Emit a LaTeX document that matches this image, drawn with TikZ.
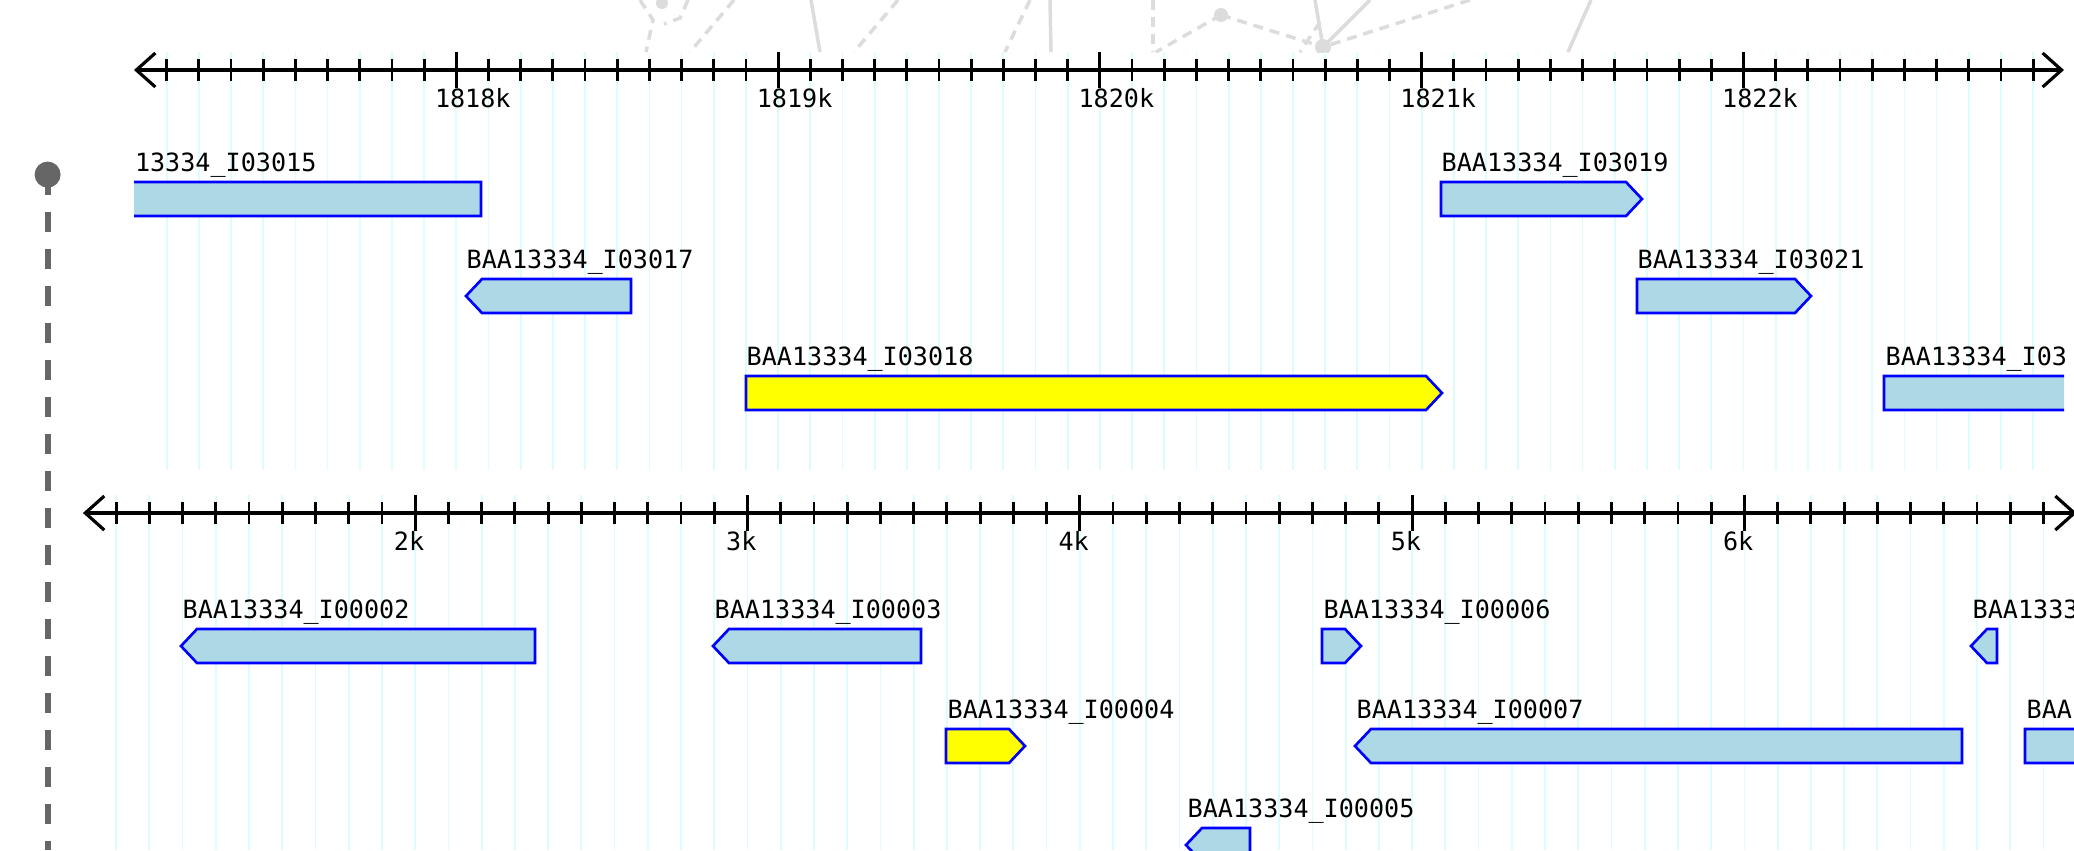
\documentclass[tikz,border=0pt]{standalone}
\usepackage{fontspec}
\newfontfamily\pixfont{DejaVu Sans Mono}
\usetikzlibrary{arrows.meta}
\definecolor{genefill}{HTML}{ADD8E6}
\definecolor{geneline}{HTML}{0000FF}
\definecolor{hilite}{HTML}{FFFF00}
\definecolor{gridcyan}{HTML}{DDFCFC}
\definecolor{linkgray}{HTML}{DCDCDC}
\definecolor{pingray}{HTML}{666666}
\tikzset{
  gene/.style={fill=genefill,draw=geneline,line width=0.75pt,line join=miter},
  hit/.style={fill=hilite},
  genelab/.style={anchor=base west,inner sep=0pt,
    font=\pixfont\fontsize{7.14}{8}\selectfont},
  ticklab/.style={genelab},
  axisline/.style={<->,line width=0.9pt},
  tickmark/.style={line width=0.8pt},
  gridline/.style={gridcyan,line width=0.5pt},
  % faint edges of the network view lying behind the tracks
  link/.style={linkgray,line width=1pt},
  linkdash/.style={link,dash pattern=on 0.1cm off 0.07cm},
  pin/.style={circle,fill=pingray,inner sep=0pt,minimum size=0.26cm}
}
% gene glyphs: name-less shapes, box top at #3, height 34, point depth 16
\newcommand{\fwdgene}[4]{%
  \draw[gene,#4] (#1,#3) -- ({#2-16},#3) -- (#2,{#3+17})
    -- ({#2-16},{#3+34}) -- (#1,{#3+34}) -- cycle;}
\newcommand{\revgene}[4]{%
  \draw[gene,#4] (#1,{#3+17}) -- ({#1+16},#3) -- (#2,#3)
    -- (#2,{#3+34}) -- ({#1+16},{#3+34}) -- cycle;}

\begin{document}
\begin{tikzpicture}[x=0.01cm,y=-0.01cm,
  >={Straight Barb[length=1.9mm,width=3.4mm]}]
\useasboundingbox (0,0) rectangle (2074,850);
\clip (0,0) rectangle (2074,850);
% ---------------- network edges cut off at the top ----------------
\begin{scope}
  \clip (0,0) rectangle (2074,52);
  \draw[linkdash] (640,0) -- (653,20) -- (646,52);
  \draw[linkdash] (688,0) -- (680,18) -- (664,24);
  \draw[linkdash] (734,0) -- (690,52);
  \draw[link] (811,0) -- (820,52);
  \draw[linkdash] (898,0) -- (854,52);
  \draw[linkdash] (1030,0) -- (1005,52);
  \draw[link] (1050,0) -- (1051,52);
  \draw[linkdash] (1153,0) -- (1153,52);
  \draw[linkdash] (1221,15) -- (1156,52);
  \draw[linkdash] (1221,15) -- (1323,47);
  \draw[link] (1315,0) -- (1323,47);
  \draw[link] (1370,0) -- (1323,47);
  \draw[linkdash] (1470,0) -- (1323,47);
  \draw[linkdash] (1320,22) -- (1300,52);
  \draw[link] (1591,0) -- (1568,52);
  \fill[linkgray] (1221,15) circle (0.07cm) (1323,47) circle (0.08cm)
    (662,3) circle (0.06cm);
\end{scope}
% ---------------- pin on the left ----------------
\node[pin] (pin) at (47.6,174.6) {};
\coordinate (pinend) at (47.6,850);
\draw[pingray,line width=1.7pt,dash pattern=on 0.2cm off 0.17cm]
  (pin.center) -- (pinend);
% ---------------- upper track: 1817k -- 1823k ----------------
\foreach \i in {-9,...,49}
  \draw[gridline] ({456.3+32.18*\i},52) -- ++(0,418);
\coordinate (ua) at (134,70);
\coordinate (ub) at (2064,70);
\draw[axisline] (ua) -- (ub);
\foreach \i in {-9,...,49}
  \draw[tickmark] ({456.3+32.18*\i},59) -- ++(0,22);
\foreach \k/\lab in {0/1818k,1/1819k,2/1820k,3/1821k,4/1822k}{
  \draw[tickmark] ({456.3+321.8*\k},52) -- ++(0,36);
  \node[ticklab] (u\lab) at ({456.3+321.8*\k-22},107) {\lab};}
\begin{scope}
  \clip (134,52) rectangle (2064,470);
  \revgene{89}{481}{182}{}
  \node[genelab] (I03015) at (134.3,171) {13334\_I03015};
  \fwdgene{1441}{1642}{182}{}
  \node[genelab] (I03019) at (1441,171) {BAA13334\_I03019};
  \revgene{466}{631}{279}{}
  \node[genelab] (I03017) at (466,268) {BAA13334\_I03017};
  \fwdgene{1637}{1811}{279}{}
  \node[genelab] (I03021) at (1637,268) {BAA13334\_I03021};
  \fwdgene{746}{1442}{376}{hit}
  \node[genelab] (I03018) at (746,365) {BAA13334\_I03018};
  \fwdgene{1884}{2200}{376}{}
  \node[genelab] (I03next) at (1885,365) {BAA13334\_I03};
\end{scope}
% ---------------- lower track: 1k -- 7k ----------------
\foreach \i in {-9,...,49}
  \draw[gridline] ({415.2+33.23*\i},495) -- ++(0,355);
\coordinate (la) at (82.9,513);
\coordinate (lb) at (2076.7,513);
\draw[axisline] (la) -- (lb);
\foreach \i in {-9,...,49}
  \draw[tickmark] ({415.2+33.23*\i},502) -- ++(0,22);
\foreach \k/\lab in {0/2k,1/3k,2/4k,3/5k,4/6k}{
  \draw[tickmark] ({415.2+332.3*\k},495) -- ++(0,36);
  \node[ticklab] (l\lab) at ({415.2+332.3*\k-22},550) {\lab};}
\begin{scope}
  \clip (82.9,495) rectangle (2080,850);
  \revgene{181}{535}{629}{}
  \node[genelab] (I00002) at (182,618) {BAA13334\_I00002};
  \revgene{713}{921}{629}{}
  \node[genelab] (I00003) at (714,618) {BAA13334\_I00003};
  \fwdgene{1322}{1361}{629}{}
  \node[genelab] (I00006) at (1323,618) {BAA13334\_I00006};
  \revgene{1971}{1997}{629}{}
  \node[genelab] (I00next) at (1972,618) {BAA1333};
  \fwdgene{946}{1025}{729}{hit}
  \node[genelab] (I00004) at (947,718) {BAA13334\_I00004};
  \revgene{1355}{1962}{729}{}
  \node[genelab] (I00007) at (1356,718) {BAA13334\_I00007};
  \fwdgene{2025}{2200}{729}{}
  \node[genelab] (I00last) at (2026,718) {BAA};
  \revgene{1186}{1250}{828}{}
  \node[genelab] (I00005) at (1187,817) {BAA13334\_I00005};
\end{scope}
\end{tikzpicture}
\end{document}
